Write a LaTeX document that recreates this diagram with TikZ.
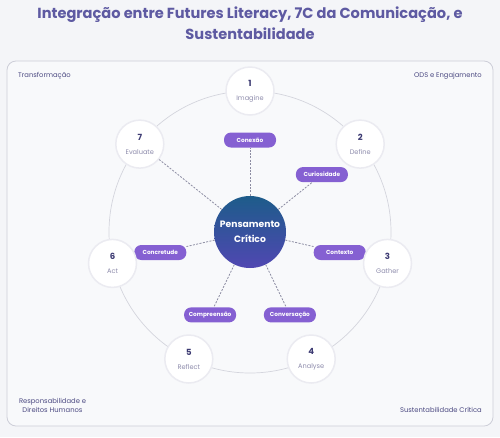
\documentclass[tikz,border=0pt]{standalone}
\usepackage{fontspec}
\setmainfont{Poppins}
\usetikzlibrary{calc}
\definecolor{bgc}{HTML}{F4F5F8}
\definecolor{panelc}{HTML}{F8F9FB}
\definecolor{panelline}{HTML}{CDCED8}
\definecolor{titlec}{HTML}{5E5AA2}
\definecolor{pillc}{HTML}{8560D2}
\definecolor{numc}{HTML}{3C3A72}
\definecolor{lblc}{HTML}{8E8CAC}
\definecolor{cornc}{HTML}{4C4A82}
\definecolor{dashc}{HTML}{8C8CA2}
\definecolor{orbitc}{HTML}{D4D5DD}
\definecolor{ringc}{HTML}{EBEBF1}
\definecolor{ctop}{HTML}{1D5C8A}
\definecolor{cbot}{HTML}{5047B2}
\tikzset{
  titlestyle/.style={text=titlec, font=\fontsize{14.6}{17}\selectfont\bfseries, inner sep=0},
  cornerlbl/.style={text=cornc, font=\fontsize{6.8}{9}\selectfont, inner sep=0},
  stagenode/.style={circle, minimum size=48pt, inner sep=0, fill=white, draw=ringc, line width=1.5pt, align=center},
  pillnode/.style={rounded corners=7pt, minimum width=52pt, minimum height=15pt, inner sep=0, fill=pillc, text=white, font=\fontsize{5.8}{6}\selectfont\bfseries},
  centernode/.style={circle, minimum size=72pt, inner sep=0, shading angle=-45, top color=ctop, bottom color=cbot, text=white, align=center, font=\fontsize{9.2}{15}\selectfont\bfseries},
  dashline/.style={dashc, line width=0.8pt, dash pattern=on 2pt off 1.4pt},
}
\newcommand{\stagetext}[2]{{\color{numc}\fontsize{8.5}{9}\selectfont\bfseries #1}\\[2pt]{\color{lblc}\fontsize{6.6}{7}\selectfont #2}}
\begin{document}
\begin{tikzpicture}[x=1pt,y=-1pt]
\fill[bgc] (0,0) rectangle (500,437);
\useasboundingbox (0,0) rectangle (500,437);
% panel
\draw[fill=panelc, draw=panelline, line width=0.8pt, rounded corners=9pt] (7,61) rectangle (493,426);
% title
\node[titlestyle] (t1) at (250,15) {Integração entre Futures Literacy, 7C da Comunicação, e};
\node[titlestyle] (t2) at (250,34) {Sustentabilidade};
% corner labels
\node[cornerlbl, anchor=west] (cTL) at (18,76) {Transformação};
\node[cornerlbl, anchor=east] (cTR) at (482,76) {ODS e Engajamento};
\node[cornerlbl, align=center] (cBL) at (52.5,405.5) {Responsabilidade e\\Direitos Humanos};
\node[cornerlbl, anchor=east] (cBR) at (482,410) {Sustentabilidade Crítica};
% orbit
\draw[orbitc, line width=0.7pt] (250,232) circle[radius=141pt];
% center
\node[centernode] (c) at (250,232) {Pensamento\\Crítico};
% pills
\node[pillnode] (p1) at (250,140) {Conexão};
\node[pillnode] (p2) at (321.9,174.6) {Curiosidade};
\node[pillnode] (p3) at (339.7,252.5) {Contexto};
\node[pillnode] (p4) at (289.9,314.9) {Conversação};
\node[pillnode] (p5) at (210.1,314.9) {Compreensão};
\node[pillnode] (p6) at (160.3,252.5) {Concretude};
% stage nodes
\node[stagenode] (n1) at (250,91) {\stagetext{1}{Imagine}};
\node[stagenode] (n2) at (360.2,144.1) {\stagetext{2}{Define}};
\node[stagenode] (n3) at (387.5,263.4) {\stagetext{3}{Gather}};
\node[stagenode] (n4) at (311.2,359) {\stagetext{4}{Analyse}};
\node[stagenode] (n5) at (188.8,359) {\stagetext{5}{Reflect}};
\node[stagenode] (n6) at (112.5,263.4) {\stagetext{6}{Act}};
\node[stagenode] (n7) at (139.8,144.1) {\stagetext{7}{Evaluate}};
% connectors
\draw[dashline] (c) -- (p1);
\draw[dashline] (c) -- (p2);
\draw[dashline] (c) -- (p3);
\draw[dashline] (c) -- (p4);
\draw[dashline] (c) -- (p5);
\draw[dashline] (c) -- (p6);
\draw[dashline] (c) -- (n7);
\end{tikzpicture}
\end{document}
